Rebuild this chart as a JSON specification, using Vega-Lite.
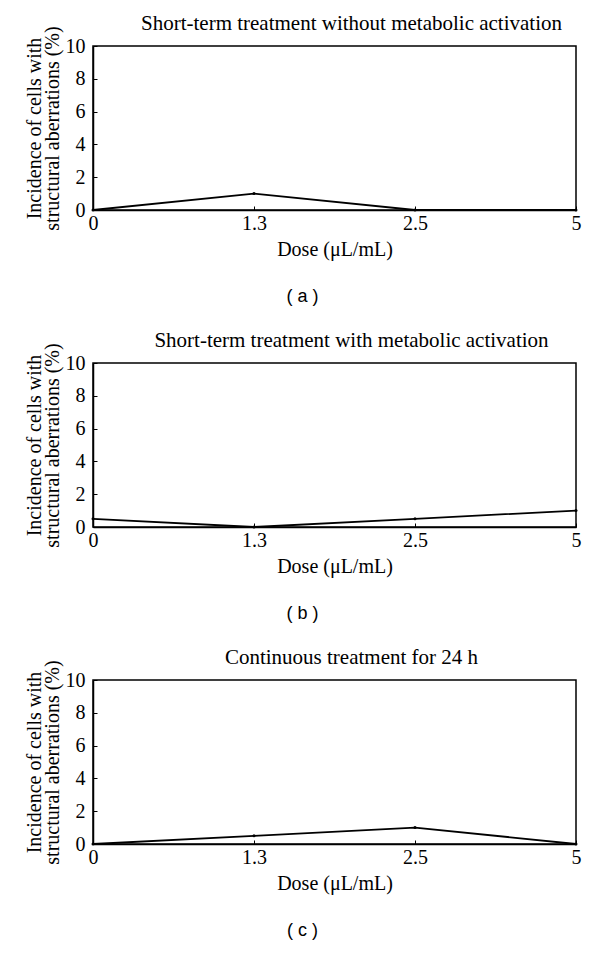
{
  "$schema": "https://vega.github.io/schema/vega-lite/v6.json",
  "background": "white",
  "padding": {"left": 23, "top": 12, "right": 5, "bottom": 0},
  "datasets": {
    "a": [
      {"dose": "0", "incidence": 0},
      {"dose": "1.3", "incidence": 1},
      {"dose": "2.5", "incidence": 0},
      {"dose": "5", "incidence": 0}
    ],
    "b": [
      {"dose": "0", "incidence": 0.5},
      {"dose": "1.3", "incidence": 0},
      {"dose": "2.5", "incidence": 0.5},
      {"dose": "5", "incidence": 1}
    ],
    "c": [
      {"dose": "0", "incidence": 0},
      {"dose": "1.3", "incidence": 0.5},
      {"dose": "2.5", "incidence": 1},
      {"dose": "5", "incidence": 0}
    ]
  },
  "spacing": 23,
  "vconcat": [
    {
      "title": {"text": "( a )", "orient": "bottom", "font": "Liberation Sans", "fontSize": 18, "offset": 28, "dx": 0},
      "vconcat": [
        {
          "data": {"name": "a"},
          "title": {"text": "Short-term treatment without metabolic activation", "dx": 17},
          "width": 483, "height": 164,
          "layer": [
            {"mark": {"type": "line", "color": "black", "strokeWidth": 1.8}, "encoding": {}},
            {"mark": {"type": "point", "filled": true, "color": "black", "size": 9, "opacity": 1}, "encoding": {}}
          ],
          "encoding": {
            "x": {"field": "dose", "type": "ordinal", "sort": ["0", "1.3", "2.5", "5"], "scale": {"type": "point", "padding": 0}, "title": "Dose (μL/mL)", "axis": {"labelAngle": 0}},
            "y": {"field": "incidence", "type": "quantitative", "scale": {"domain": [0, 10]}, "axis": {"values": [0, 2, 4, 6, 8, 10]}, "title": ["Incidence of cells with", "structural aberrations (%)"]}
          }
        }
      ]
    },
    {
      "title": {"text": "( b )", "orient": "bottom", "font": "Liberation Sans", "fontSize": 18, "offset": 28, "dx": 0},
      "vconcat": [
        {
          "data": {"name": "b"},
          "title": {"text": "Short-term treatment with metabolic activation", "dx": 17},
          "width": 483, "height": 164,
          "layer": [
            {"mark": {"type": "line", "color": "black", "strokeWidth": 1.8}, "encoding": {}},
            {"mark": {"type": "point", "filled": true, "color": "black", "size": 9, "opacity": 1}, "encoding": {}}
          ],
          "encoding": {
            "x": {"field": "dose", "type": "ordinal", "sort": ["0", "1.3", "2.5", "5"], "scale": {"type": "point", "padding": 0}, "title": "Dose (μL/mL)", "axis": {"labelAngle": 0}},
            "y": {"field": "incidence", "type": "quantitative", "scale": {"domain": [0, 10]}, "axis": {"values": [0, 2, 4, 6, 8, 10]}, "title": ["Incidence of cells with", "structural aberrations (%)"]}
          }
        }
      ]
    },
    {
      "title": {"text": "( c )", "orient": "bottom", "font": "Liberation Sans", "fontSize": 18, "offset": 28, "dx": 0},
      "vconcat": [
        {
          "data": {"name": "c"},
          "title": {"text": "Continuous treatment for 24 h", "dx": 17},
          "width": 483, "height": 164,
          "layer": [
            {"mark": {"type": "line", "color": "black", "strokeWidth": 1.8}, "encoding": {}},
            {"mark": {"type": "point", "filled": true, "color": "black", "size": 9, "opacity": 1}, "encoding": {}}
          ],
          "encoding": {
            "x": {"field": "dose", "type": "ordinal", "sort": ["0", "1.3", "2.5", "5"], "scale": {"type": "point", "padding": 0}, "title": "Dose (μL/mL)", "axis": {"labelAngle": 0}},
            "y": {"field": "incidence", "type": "quantitative", "scale": {"domain": [0, 10]}, "axis": {"values": [0, 2, 4, 6, 8, 10]}, "title": ["Incidence of cells with", "structural aberrations (%)"]}
          }
        }
      ]
    }
  ],
  "config": {
    "view": {"stroke": "black", "strokeWidth": 1.5},
    "font": "Liberation Serif",
    "title": {"font": "Liberation Serif", "fontSize": 21, "fontWeight": "normal", "color": "black", "anchor": "middle", "offset": -8},
    "axis": {
      "grid": false,
      "domainColor": "black",
      "domainWidth": 1.5,
      "tickColor": "black",
      "tickSize": -4,
      "tickWidth": 1,
      "labelFont": "Liberation Serif",
      "labelFontSize": 20,
      "labelColor": "black",
      "titleFont": "Liberation Serif",
      "titleFontSize": 20,
      "titleFontWeight": "normal",
      "titleColor": "black",
      "titleLineHeight": 18
    },
    "axisX": {"titlePadding": 6, "labelPadding": 7},
    "axisY": {"titlePadding": 3, "labelPadding": 12}
  }
}
